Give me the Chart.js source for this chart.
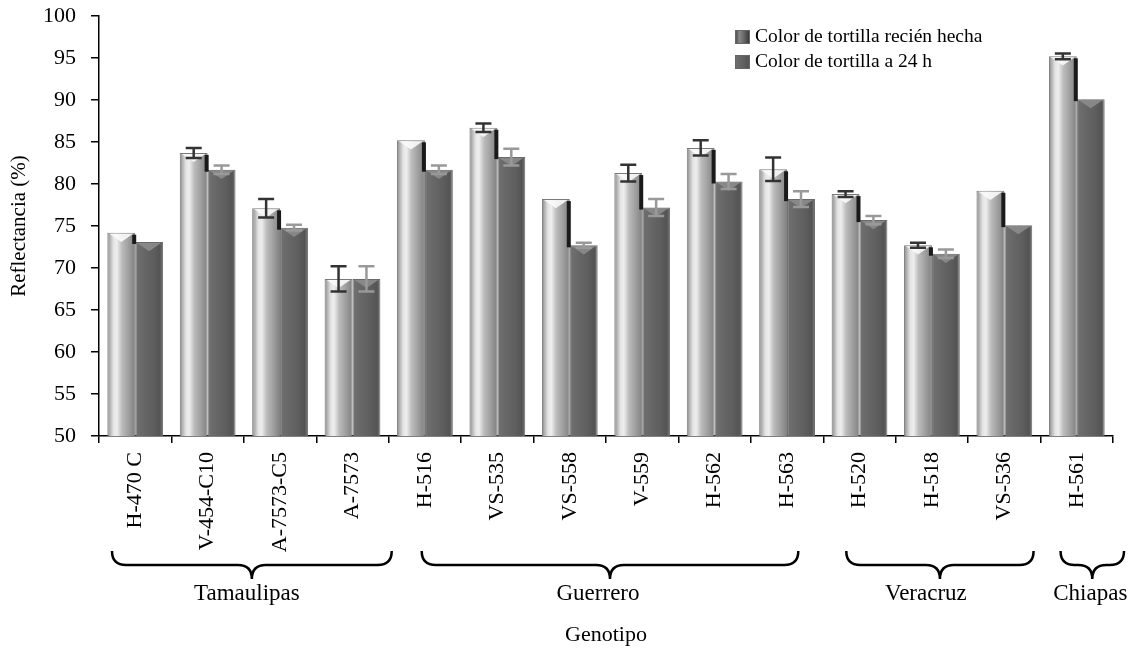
<!DOCTYPE html>
<html>
<head>
<meta charset="utf-8">
<script src="https://cdn.jsdelivr.net/npm/chart.js@4.4.1/dist/chart.umd.min.js"></script>
<style>
  html, body { margin: 0; padding: 0; background: #fff; }
</style>
</head>
<body>
<canvas id="grafica" width="1130" height="650"></canvas>
<script>
// datos
const genotipos = ["H-470 C", "V-454-C10", "A-7573-C5", "A-7573", "H-516", "VS-535", "VS-558",
  "V-559", "H-562", "H-563", "H-520", "H-518", "VS-536", "H-561"];
const recienHecha = [74.2, 83.7, 77.1, 68.7, 85.2, 86.7, 78.2, 81.3, 84.3, 81.75, 78.8, 72.7, 79.2, 95.2];
const errRecien = [0, 0.6, 1.1, 1.5, 0, 0.5, 0, 1.0, 0.9, 1.4, 0.35, 0.3, 0, 0.35];
const a24h = [73.1, 81.7, 74.8, 68.7, 81.7, 83.2, 72.7, 77.2, 80.3, 78.2, 75.7, 71.7, 75.1, 90.1];
const err24h = [0, 0.5, 0.35, 1.5, 0.5, 1.0, 0.3, 1.0, 0.9, 0.95, 0.5, 0.5, 0, 0];
const regiones = ["Tamaulipas", "Guerrero", "Veracruz", "Chiapas"];
const regionInicio = [0, 4, 10, 13];
const regionFin = [3, 9, 12, 13];
const series = ["Color de tortilla recién hecha", "Color de tortilla a 24 h"];

const fuente = "'Liberation Serif', 'Times New Roman', serif";
Chart.defaults.font.family = fuente;
Chart.defaults.color = "#000";

// gradientes tipo cilindro
const paradas1 = [[0, "#7a7a7a"], [0.07, "#a8a8a8"], [0.22, "#e4e4e4"], [0.34, "#eeeeee"], [0.52, "#bcbcbc"], [0.78, "#9c9c9c"], [1, "#808080"]];
const paradas2 = [[0, "#8c8c8c"], [0.08, "#6e6e6e"], [0.35, "#666666"], [0.65, "#5e5e5e"], [0.88, "#545454"], [1, "#777777"]];
const paradasLeyenda1 = [[0, "#444"], [0.3, "#888"], [0.6, "#666"], [1, "#333"]];

function gradiente(ctx, x1, x2, paradas) {
  const g = ctx.createLinearGradient(x1, 0, x2, 0);
  paradas.forEach((p) => g.addColorStop(p[0], p[1]));
  return g;
}

const pluginBarras = {
  id: "barras",
  beforeDatasetsDraw(chart) {
    const ctx = chart.ctx;
    chart.data.datasets.forEach((ds, di) => {
      const meta = chart.getDatasetMeta(di);
      meta.data.forEach((el) => {
        const x1 = el.x - el.width / 2, x2 = el.x + el.width / 2;
        el.options.backgroundColor = gradiente(ctx, x1, x2, di === 0 ? paradas1 : paradas2);
      });
    });
  },
  afterDatasetsDraw(chart) {
    const ctx = chart.ctx;
    const y = chart.scales.y;
    const m1 = chart.getDatasetMeta(0).data;
    const m2 = chart.getDatasetMeta(1).data;
    ctx.save();
    // sombra negra del lado derecho de la primera barra
    m1.forEach((el, i) => {
      const b2 = m2[i];
      if (b2.y > el.y) {
        ctx.fillStyle = "#1a1a1a";
        ctx.fillRect(el.x + el.width / 2 - 3, el.y + 2, 4, b2.y - el.y);
      }
    });
    // bisel superior
    [m1, m2].forEach((meta, di) => {
      meta.forEach((el) => {
        const w = el.width, l = el.x - w / 2 + 2, r = el.x + w / 2 - 2;
        ctx.beginPath();
        ctx.moveTo(l, el.y + 1);
        ctx.lineTo(r, el.y + 1);
        ctx.lineTo(el.x, el.y + w * 0.33);
        ctx.closePath();
        ctx.fillStyle = di === 0 ? "rgba(250,250,250,0.9)" : "rgba(140,140,140,0.9)";
        ctx.fill();
      });
    });
    // barras de error
    const errores = [errRecien, err24h];
    [m1, m2].forEach((meta, di) => {
      ctx.strokeStyle = di === 0 ? "#333333" : "#999999";
      ctx.lineWidth = 2.5;
      meta.forEach((el, i) => {
        const e = errores[di][i];
        if (!e) return;
        const v = chart.data.datasets[di].data[i];
        const yt = y.getPixelForValue(v + e), yb = y.getPixelForValue(v - e);
        ctx.beginPath();
        ctx.moveTo(el.x, yt); ctx.lineTo(el.x, yb);
        ctx.moveTo(el.x - 8, yt); ctx.lineTo(el.x + 8, yt);
        ctx.moveTo(el.x - 8, yb); ctx.lineTo(el.x + 8, yb);
        ctx.stroke();
      });
    });
    ctx.restore();
  },
  afterDraw(chart) {
    const ctx = chart.ctx;
    const x = chart.scales.x;
    const mitad = (x.getPixelForValue(1) - x.getPixelForValue(0)) / 2;
    const margenIzq = [13, 33, 23, 20];
    const margenDer = [-3, 25, 7, -11];
    const desplazaTexto = [-5, -12, -14, -2];
    ctx.save();
    // llaves de las regiones
    ctx.strokeStyle = "#000";
    ctx.lineWidth = 2.5;
    regiones.forEach((reg, k) => {
      const x1 = x.getPixelForValue(regionInicio[k]) - mitad + margenIzq[k];
      const x2 = x.getPixelForValue(regionFin[k]) + mitad - margenDer[k];
      const xc = (x1 + x2) / 2;
      const yTop = 551, yMid = 565, yTip = 579, r = Math.min(14, (x2 - x1) / 4);
      ctx.beginPath();
      ctx.moveTo(x1, yTop);
      ctx.quadraticCurveTo(x1, yMid, x1 + r, yMid);
      ctx.lineTo(xc - r, yMid);
      ctx.quadraticCurveTo(xc, yMid, xc, yTip);
      ctx.quadraticCurveTo(xc, yMid, xc + r, yMid);
      ctx.lineTo(x2 - r, yMid);
      ctx.quadraticCurveTo(x2, yMid, x2, yTop);
      ctx.stroke();
      ctx.fillStyle = "#000";
      ctx.font = "23px " + fuente;
      ctx.textAlign = "center";
      ctx.textBaseline = "middle";
      ctx.fillText(reg, xc + desplazaTexto[k], 594);
    });
    // leyenda
    const colores = [paradasLeyenda1, paradas2];
    series.forEach((s, i) => {
      const yy = 30 + i * 25;
      ctx.fillStyle = gradiente(ctx, 735, 750, colores[i]);
      ctx.fillRect(735, yy, 15, 14);
      ctx.strokeStyle = "#666";
      ctx.lineWidth = 1;
      ctx.strokeRect(735.5, yy + 0.5, 14, 13);
      ctx.fillStyle = "#000";
      ctx.font = "19.5px " + fuente;
      ctx.textAlign = "left";
      ctx.textBaseline = "middle";
      ctx.fillText(s, 755, yy + 7);
    });
    ctx.restore();
  },
};

new Chart(document.getElementById("grafica"), {
  type: "bar",
  data: {
    labels: genotipos,
    datasets: [
      { label: series[0], data: recienHecha, backgroundColor: () => "#bbbbbb", borderColor: "#7a7a7a", borderWidth: 1 },
      { label: series[1], data: a24h, backgroundColor: () => "#666666", borderColor: "#6a6a6a", borderWidth: 1 },
    ],
  },
  options: {
    responsive: false,
    animation: false,
    layout: { padding: { top: 16, right: 17, left: 0, bottom: 0 } },
    datasets: { bar: { categoryPercentage: 0.77, barPercentage: 1.0 } },
    plugins: { legend: { display: false }, tooltip: { enabled: false } },
    scales: {
      x: {
        afterFit: (scale) => { scale.height = 214; },
        grid: { drawOnChartArea: false, drawTicks: true, tickLength: 7, color: "#000", lineWidth: 1.5 },
        border: { color: "#000", width: 1.5 },
        ticks: { font: { size: 22 }, color: "#000", minRotation: 90, maxRotation: 90, padding: 9, autoSkip: false },
        title: { display: true, text: "Genotipo", font: { size: 22 }, color: "#000", padding: { top: 0, bottom: 2 } },
      },
      y: {
        min: 50,
        max: 100,
        afterFit: (scale) => {
          scale.width = 99;
          scale.paddingTop = 0;
          scale.paddingBottom = 0;
        },
        grid: { drawOnChartArea: false, drawTicks: true, tickLength: 8, color: "#000", lineWidth: 1.5 },
        border: { color: "#000", width: 1.5 },
        ticks: { stepSize: 5, font: { size: 22 }, color: "#000", padding: 15 },
        title: { display: true, text: "Reflectancia (%)", font: { size: 21 }, color: "#000", padding: { top: 7, bottom: 0 } },
      },
    },
  },
  plugins: [pluginBarras],
});
</script>
</body>
</html>
